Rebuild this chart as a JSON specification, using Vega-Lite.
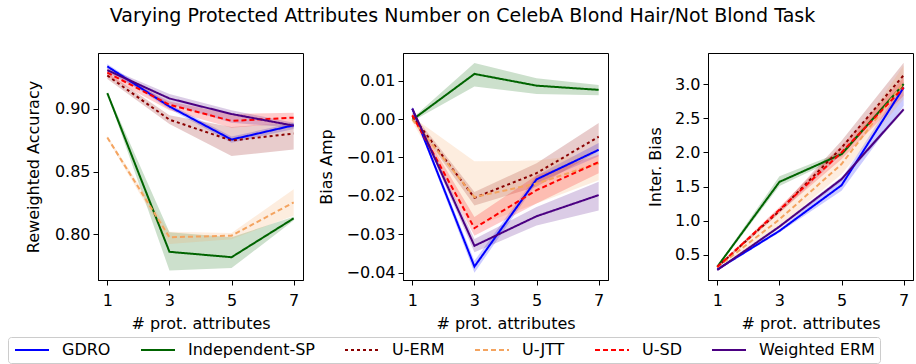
{
  "$schema": "https://vega.github.io/schema/vega-lite/v6.json",
  "padding": {"left": 7, "top": 6, "right": 2, "bottom": 0},
  "title": {"text": "Varying Protected Attributes Number on CelebA Blond Hair/Not Blond Task", "anchor": "middle", "dx": 2, "fontSize": 19, "fontWeight": "normal", "font": "DejaVu Sans", "color": "black", "offset": 27},
  "bounds": "flush",
  "spacing": 100,
  "datasets": {
    "d": [
      {"panel": "acc", "method": "GDRO", "x": 1, "y": 0.934, "lo": 0.932, "hi": 0.936},
      {"panel": "acc", "method": "GDRO", "x": 3, "y": 0.902, "lo": 0.900, "hi": 0.904},
      {"panel": "acc", "method": "GDRO", "x": 5, "y": 0.8756, "lo": 0.873, "hi": 0.878},
      {"panel": "acc", "method": "GDRO", "x": 7, "y": 0.887, "lo": 0.884, "hi": 0.889},
      {"panel": "acc", "method": "Independent-SP", "x": 1, "y": 0.9127, "lo": 0.912, "hi": 0.9135},
      {"panel": "acc", "method": "Independent-SP", "x": 3, "y": 0.786, "lo": 0.7711, "hi": 0.8016},
      {"panel": "acc", "method": "Independent-SP", "x": 5, "y": 0.7817, "lo": 0.773, "hi": 0.7976},
      {"panel": "acc", "method": "Independent-SP", "x": 7, "y": 0.8127, "lo": 0.811, "hi": 0.814},
      {"panel": "acc", "method": "U-ERM", "x": 1, "y": 0.9267, "lo": 0.924, "hi": 0.929},
      {"panel": "acc", "method": "U-ERM", "x": 3, "y": 0.8915, "lo": 0.888, "hi": 0.895},
      {"panel": "acc", "method": "U-ERM", "x": 5, "y": 0.8748, "lo": 0.8624, "hi": 0.8857},
      {"panel": "acc", "method": "U-ERM", "x": 7, "y": 0.8804, "lo": 0.8677, "hi": 0.889},
      {"panel": "acc", "method": "U-JTT", "x": 1, "y": 0.8772, "lo": 0.876, "hi": 0.8785},
      {"panel": "acc", "method": "U-JTT", "x": 3, "y": 0.7976, "lo": 0.7923, "hi": 0.802},
      {"panel": "acc", "method": "U-JTT", "x": 5, "y": 0.7989, "lo": 0.796, "hi": 0.801},
      {"panel": "acc", "method": "U-JTT", "x": 7, "y": 0.8254, "lo": 0.8148, "hi": 0.836},
      {"panel": "acc", "method": "U-SD", "x": 1, "y": 0.929, "lo": 0.926, "hi": 0.932},
      {"panel": "acc", "method": "U-SD", "x": 3, "y": 0.9034, "lo": 0.899, "hi": 0.906},
      {"panel": "acc", "method": "U-SD", "x": 5, "y": 0.8905, "lo": 0.885, "hi": 0.896},
      {"panel": "acc", "method": "U-SD", "x": 7, "y": 0.8931, "lo": 0.889, "hi": 0.897},
      {"panel": "acc", "method": "Weighted ERM", "x": 1, "y": 0.931, "lo": 0.929, "hi": 0.933},
      {"panel": "acc", "method": "Weighted ERM", "x": 3, "y": 0.9084, "lo": 0.904, "hi": 0.912},
      {"panel": "acc", "method": "Weighted ERM", "x": 5, "y": 0.896, "lo": 0.889, "hi": 0.899},
      {"panel": "acc", "method": "Weighted ERM", "x": 7, "y": 0.8867, "lo": 0.885, "hi": 0.889},

      {"panel": "amp", "method": "GDRO", "x": 1, "y": 0.0027, "lo": 0.0022, "hi": 0.0032},
      {"panel": "amp", "method": "GDRO", "x": 3, "y": -0.0384, "lo": -0.040, "hi": -0.0369},
      {"panel": "amp", "method": "GDRO", "x": 5, "y": -0.0157, "lo": -0.0167, "hi": -0.0147},
      {"panel": "amp", "method": "GDRO", "x": 7, "y": -0.008, "lo": -0.0097, "hi": -0.0062},
      {"panel": "amp", "method": "Independent-SP", "x": 1, "y": -0.0002, "lo": -0.0006, "hi": 0.0002},
      {"panel": "amp", "method": "Independent-SP", "x": 3, "y": 0.01175, "lo": 0.0085, "hi": 0.0146},
      {"panel": "amp", "method": "Independent-SP", "x": 5, "y": 0.0087, "lo": 0.0065, "hi": 0.0106},
      {"panel": "amp", "method": "Independent-SP", "x": 7, "y": 0.0076, "lo": 0.0062, "hi": 0.0089},
      {"panel": "amp", "method": "U-ERM", "x": 1, "y": 0.0008, "lo": 0.0, "hi": 0.0016},
      {"panel": "amp", "method": "U-ERM", "x": 3, "y": -0.0205, "lo": -0.0225, "hi": -0.019},
      {"panel": "amp", "method": "U-ERM", "x": 5, "y": -0.0141, "lo": -0.0176, "hi": -0.0115},
      {"panel": "amp", "method": "U-ERM", "x": 7, "y": -0.0046, "lo": -0.0084, "hi": -0.001},
      {"panel": "amp", "method": "U-JTT", "x": 1, "y": -0.0001, "lo": -0.0008, "hi": 0.0006},
      {"panel": "amp", "method": "U-JTT", "x": 3, "y": -0.0203, "lo": -0.028, "hi": -0.011},
      {"panel": "amp", "method": "U-JTT", "x": 5, "y": -0.0168, "lo": -0.022, "hi": -0.0108},
      {"panel": "amp", "method": "U-JTT", "x": 7, "y": -0.0115, "lo": -0.0159, "hi": -0.0089},
      {"panel": "amp", "method": "U-SD", "x": 1, "y": 0.001, "lo": 0.0003, "hi": 0.0017},
      {"panel": "amp", "method": "U-SD", "x": 3, "y": -0.0284, "lo": -0.0304, "hi": -0.0255},
      {"panel": "amp", "method": "U-SD", "x": 5, "y": -0.0185, "lo": -0.022, "hi": -0.0146},
      {"panel": "amp", "method": "U-SD", "x": 7, "y": -0.0112, "lo": -0.0141, "hi": -0.0093},
      {"panel": "amp", "method": "Weighted ERM", "x": 1, "y": 0.0027, "lo": 0.0022, "hi": 0.0032},
      {"panel": "amp", "method": "Weighted ERM", "x": 3, "y": -0.033, "lo": -0.0347, "hi": -0.0312},
      {"panel": "amp", "method": "Weighted ERM", "x": 5, "y": -0.0253, "lo": -0.0277, "hi": -0.0229},
      {"panel": "amp", "method": "Weighted ERM", "x": 7, "y": -0.0198, "lo": -0.0238, "hi": -0.0163},

      {"panel": "inter", "method": "GDRO", "x": 1, "y": 0.29, "lo": 0.27, "hi": 0.31},
      {"panel": "inter", "method": "GDRO", "x": 3, "y": 0.852, "lo": 0.83, "hi": 0.875},
      {"panel": "inter", "method": "GDRO", "x": 5, "y": 1.52, "lo": 1.44, "hi": 1.61},
      {"panel": "inter", "method": "GDRO", "x": 7, "y": 2.95, "lo": 2.68, "hi": 3.02},
      {"panel": "inter", "method": "Independent-SP", "x": 1, "y": 0.329, "lo": 0.31, "hi": 0.345},
      {"panel": "inter", "method": "Independent-SP", "x": 3, "y": 1.569, "lo": 1.51, "hi": 1.65},
      {"panel": "inter", "method": "Independent-SP", "x": 5, "y": 1.975, "lo": 1.94, "hi": 2.01},
      {"panel": "inter", "method": "Independent-SP", "x": 7, "y": 3.0, "lo": 2.97, "hi": 3.03},
      {"panel": "inter", "method": "U-ERM", "x": 1, "y": 0.325, "lo": 0.31, "hi": 0.34},
      {"panel": "inter", "method": "U-ERM", "x": 3, "y": 1.145, "lo": 1.11, "hi": 1.18},
      {"panel": "inter", "method": "U-ERM", "x": 5, "y": 2.07, "lo": 1.97, "hi": 2.17},
      {"panel": "inter", "method": "U-ERM", "x": 7, "y": 3.13, "lo": 2.98, "hi": 3.31},
      {"panel": "inter", "method": "U-JTT", "x": 1, "y": 0.32, "lo": 0.3, "hi": 0.34},
      {"panel": "inter", "method": "U-JTT", "x": 3, "y": 1.02, "lo": 0.925, "hi": 1.12},
      {"panel": "inter", "method": "U-JTT", "x": 5, "y": 1.83, "lo": 1.68, "hi": 1.95},
      {"panel": "inter", "method": "U-JTT", "x": 7, "y": 3.02, "lo": 2.78, "hi": 3.27},
      {"panel": "inter", "method": "U-SD", "x": 1, "y": 0.325, "lo": 0.31, "hi": 0.34},
      {"panel": "inter", "method": "U-SD", "x": 3, "y": 1.16, "lo": 1.12, "hi": 1.2},
      {"panel": "inter", "method": "U-SD", "x": 5, "y": 2.0, "lo": 1.9, "hi": 2.1},
      {"panel": "inter", "method": "U-SD", "x": 7, "y": 2.95, "lo": 2.83, "hi": 3.1},
      {"panel": "inter", "method": "Weighted ERM", "x": 1, "y": 0.28, "lo": 0.265, "hi": 0.295},
      {"panel": "inter", "method": "Weighted ERM", "x": 3, "y": 0.915, "lo": 0.89, "hi": 0.94},
      {"panel": "inter", "method": "Weighted ERM", "x": 5, "y": 1.61, "lo": 1.58, "hi": 1.64},
      {"panel": "inter", "method": "Weighted ERM", "x": 7, "y": 2.63, "lo": 2.6, "hi": 2.66}
    ]
  },
  "hconcat": [
    {
      "width": 205, "height": 227,
      "data": {"name": "d"},
      "transform": [{"filter": "datum.panel === 'acc'"}],
      "encoding": {
        "x": {"field": "x", "type": "quantitative", "scale": {"domain": [0.7, 7.3], "nice": false, "zero": false}, "axis": {"values": [1, 3, 5, 7], "format": "d", "title": "# prot. attributes"}}
      },
      "layer": [
        {
          "mark": {"type": "area", "opacity": 0.2},
          "encoding": {
            "y": {"field": "lo", "type": "quantitative", "scale": {"domain": [0.7635, 0.9447], "nice": false, "zero": false}, "axis": {"values": [0.8, 0.85, 0.9], "format": ".2f", "title": "Reweighted Accuracy", "titlePadding": 13}},
            "y2": {"field": "hi"},
            "fill": {"field": "method", "type": "nominal", "scale": {"domain": ["GDRO", "Independent-SP", "U-ERM", "U-JTT", "U-SD", "Weighted ERM"], "range": ["#0000ff", "#006400", "#8b0000", "#f4a460", "#ff0000", "#4b0082"]}}
          }
        },
        {
          "mark": {"type": "line", "strokeWidth": 2},
          "encoding": {
            "y": {"field": "y", "type": "quantitative"},
            "color": {"field": "method", "type": "nominal", "scale": {"domain": ["GDRO", "Independent-SP", "U-ERM", "U-JTT", "U-SD", "Weighted ERM"], "range": ["#0000ff", "#006400", "#8b0000", "#f4a460", "#ff0000", "#4b0082"]}},
            "strokeDash": {"field": "method", "type": "nominal", "scale": {"domain": ["GDRO", "Independent-SP", "U-ERM", "U-JTT", "U-SD", "Weighted ERM"], "range": [[1, 0], [1, 0], [3, 3], [5, 3], [5, 3], [1, 0]]}}
          }
        }
      ]
    },
    {
      "width": 205, "height": 227,
      "data": {"name": "d"},
      "transform": [{"filter": "datum.panel === 'amp'"}],
      "encoding": {
        "x": {"field": "x", "type": "quantitative", "scale": {"domain": [0.7, 7.3], "nice": false, "zero": false}, "axis": {"values": [1, 3, 5, 7], "format": "d", "title": "# prot. attributes"}}
      },
      "layer": [
        {
          "mark": {"type": "area", "opacity": 0.2},
          "encoding": {
            "y": {"field": "lo", "type": "quantitative", "scale": {"domain": [-0.0419, 0.0172], "nice": false, "zero": false}, "axis": {"values": [-0.04, -0.03, -0.02, -0.01, 0, 0.01], "format": ".2f", "title": "Bias Amp"}},
            "y2": {"field": "hi"},
            "fill": {"field": "method", "type": "nominal"}
          }
        },
        {
          "mark": {"type": "line", "strokeWidth": 2},
          "encoding": {
            "y": {"field": "y", "type": "quantitative"},
            "color": {"field": "method", "type": "nominal"},
            "strokeDash": {"field": "method", "type": "nominal"}
          }
        }
      ]
    },
    {
      "width": 205, "height": 227,
      "data": {"name": "d"},
      "transform": [{"filter": "datum.panel === 'inter'"}],
      "encoding": {
        "x": {"field": "x", "type": "quantitative", "scale": {"domain": [0.7, 7.3], "nice": false, "zero": false}, "axis": {"values": [1, 3, 5, 7], "format": "d", "title": "# prot. attributes"}}
      },
      "layer": [
        {
          "mark": {"type": "area", "opacity": 0.2},
          "encoding": {
            "y": {"field": "lo", "type": "quantitative", "scale": {"domain": [0.134, 3.454], "nice": false, "zero": false}, "axis": {"values": [0.5, 1.0, 1.5, 2.0, 2.5, 3.0], "format": ".1f", "title": "Inter. Bias"}},
            "y2": {"field": "hi"},
            "fill": {"field": "method", "type": "nominal"}
          }
        },
        {
          "mark": {"type": "line", "strokeWidth": 2},
          "encoding": {
            "y": {"field": "y", "type": "quantitative"},
            "color": {"field": "method", "type": "nominal"},
            "strokeDash": {"field": "method", "type": "nominal"}
          }
        }
      ]
    }
  ],
  "config": {
    "font": "DejaVu Sans",
    "view": {"stroke": "black", "strokeWidth": 1},
    "axis": {"grid": false, "labelFontSize": 16, "titleFontSize": 16, "titleFontWeight": "normal", "labelColor": "black", "titleColor": "black", "tickColor": "black", "domainColor": "black", "tickSize": 5, "labelPadding": 3, "titlePadding": 6, "labelFont": "DejaVu Sans", "titleFont": "DejaVu Sans"},
    "axisX": {"labelPadding": 7, "titlePadding": 7},
    "axisY": {"titlePadding": 11},
    "legend": {
      "orient": "none", "legendX": -90, "legendY": 284,
      "direction": "horizontal", "columns": 6, "title": null,
      "symbolType": "M-1,0H4.667", "symbolSize": 144, "symbolStrokeWidth": 2, "symbolOpacity": 1,
      "labelFontSize": 16, "labelFont": "DejaVu Sans", "labelColor": "black", "labelOffset": 33, "columnPadding": 26,
      "padding": 5, "strokeColor": "#cccccc", "fillColor": "white", "cornerRadius": 3, "labelLimit": 300
    }
  },
  "resolve": {"scale": {"y": "independent"}}
}
